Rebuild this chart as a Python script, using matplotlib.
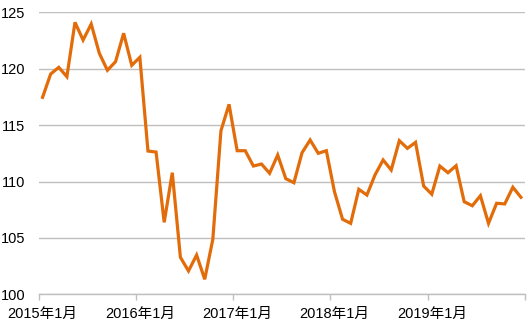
import matplotlib
matplotlib.use("Agg")
import matplotlib.pyplot as plt
import numpy as np

values = [117.46, 119.53, 120.12, 119.29, 124.11, 122.54, 123.96, 121.37, 119.86, 120.62,
          123.14, 120.30, 121.01, 112.70, 112.61, 106.38, 110.78, 103.28, 102.07, 103.48,
          101.33, 104.88, 114.50, 116.84, 112.73, 112.73, 111.37, 111.55, 110.73, 112.35,
          110.25, 109.89, 112.55, 113.68, 112.50, 112.73, 109.10, 106.65, 106.29, 109.31,
          108.80, 110.58, 111.91, 111.02, 113.62, 112.94, 113.47, 109.60, 108.87, 111.37,
          110.78, 111.40, 108.21, 107.85, 108.74, 106.29, 108.07, 108.01, 109.49, 108.60]
tick_labels = ["2015年1月", "2016年1月", "2017年1月", "2018年1月", "2019年1月"]
yticks = [100, 105, 110, 115, 120, 125]

plt.rcParams['font.family'] = ['Liberation Sans', 'Noto Sans CJK SC', 'DejaVu Sans']

fig = plt.figure(figsize=(5.28, 3.27), dpi=100)
ax = fig.add_axes([38.5/528, 32.7/327, (525-38.5)/528, (294.3-12.3)/327])

x = np.arange(len(values))
ax.plot(x, values, color='#E36C0A', lw=2.3, solid_joinstyle='miter')

ax.set_xlim(-0.5, len(values) - 0.5)
ax.set_ylim(100, 125)
ax.set_yticks(yticks)
ax.set_yticklabels([str(v) for v in yticks], fontsize=10.5, color='#000000')
ax.yaxis.grid(True, color='#BFBFBF', lw=1)
ax.set_axisbelow(True)

ax.set_xticks(np.arange(0, len(values), 12))
ax.set_xticklabels(tick_labels, fontsize=10.5)
ax.set_xticks(np.arange(-0.5, len(values), 12), minor=True)
ax.tick_params(axis='x', which='major', length=0, pad=9)
ax.tick_params(axis='x', which='minor', length=4, color='#BFBFBF', width=1)
ax.tick_params(axis='y', length=0, pad=9.5)

for s in ['top', 'right', 'left']:
    ax.spines[s].set_visible(False)
ax.spines['bottom'].set_color('#BFBFBF')
ax.spines['bottom'].set_linewidth(1)

fig.savefig('out.png', dpi=100)
